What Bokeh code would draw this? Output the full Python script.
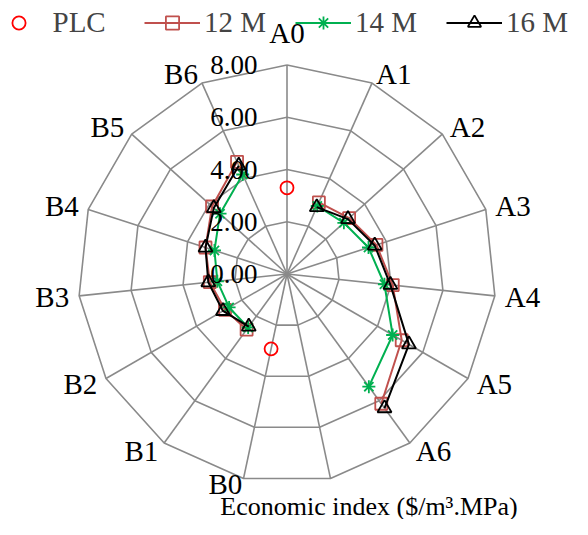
import math
import numpy as np
from bokeh.plotting import figure
from bokeh.models import Range1d, Legend, LegendItem
from bokeh.core.properties import value
from bokeh.embed import file_html
from bokeh.resources import INLINE

# ---- data ----
categories = ["A0", "A1", "A2", "A3", "A4", "A5", "A6", "",
              "B0", "B1", "B2", "B3", "B4", "B5", "B6"]
plc = [3.30, None, None, None, None, None, None, None,
       2.93, None, None, None, None, None, None]
m12 = [None, 3.00, 3.20, 3.60, 4.07, 5.07, 6.14, None,
       None, 2.63, 2.74, 2.97, 3.28, 3.86, 4.70]
m14 = [None, 2.85, 2.93, 3.28, 3.75, 4.67, 5.33, None,
       None, 2.53, 2.56, 2.68, 2.92, 3.45, 4.17]
m16 = [None, 2.80, 3.14, 3.53, 3.98, 5.39, 6.35, None,
       None, 2.49, 2.83, 3.03, 3.28, 3.77, 4.54]
ticks = [0, 2, 4, 6, 8]
tick_labels = ["0.00", "2.00", "4.00", "6.00", "8.00"]
axis_title = "Economic index ($/m\u00b3.MPa)"

# ---- layout ----
W, H = 572, 519
CX, CY = 286.5, 273.5          # centre in canvas pixels
RPX = 209.0                    # pixel radius of the outer ring
RMAX = ticks[-1]
K = RPX / RMAX                 # pixels per unit

p = figure(width=W, height=H,
           x_range=Range1d(-CX / K, (W - CX) / K),
           y_range=Range1d(-(H - CY) / K, CY / K),
           x_axis_type=None, y_axis_type=None,
           output_backend="svg", toolbar_location=None,
           min_border=0, outline_line_color=None)
p.grid.visible = False

n = len(categories)
th = np.array([2 * math.pi * i / n for i in range(n)])
sn, cs = np.sin(th), np.cos(th)

GRID = "#8a8a8a"
# rings
ring_xs, ring_ys = [], []
for t in ticks[1:]:
    ring_xs.append(list(np.append(t * sn, t * sn[0])))
    ring_ys.append(list(np.append(t * cs, t * cs[0])))
p.multi_line(ring_xs, ring_ys, line_color=GRID, line_width=1.6)
# spokes
p.segment(x0=np.zeros(n), y0=np.zeros(n), x1=RMAX * sn, y1=RMAX * cs,
          line_color=GRID, line_width=1.6)

def xy(vals):
    v = np.array([np.nan if a is None else a for a in vals], dtype=float)
    return v * sn, v * cs

FONT = value("Liberation Serif")

# series
x, y = xy(plc)
r_plc = p.scatter(x, y, marker="circle", size=13, fill_color=None,
                  line_color="#ff0000", line_width=1.8)

series = [(m12, "12 M", "#c0504d", "square", 12),
          (m14, "14 M", "#00b050", "asterisk", 13),
          (m16, "16 M", "#000000", "triangle", 14)]
items = []
for vals, name, col, mk, sz in series:
    x, y = xy(vals)
    rl = p.line(x, y, line_color=col, line_width=2)
    rs = p.scatter(x, y, marker=mk, size=sz, fill_color=None,
                   line_color=col, line_width=1.8)
    items.append(LegendItem(label=name, renderers=[rl, rs]))

# category labels
def gap(i):
    return 6 if abs(cs[i]) > 0.95 else 10

right = [i for i in range(n) if 0 < i <= 7 and categories[i]]
left = [i for i in range(n) if i >= 8 and categories[i]]
for idxs, align in ((right, "left"), (left, "right")):
    p.text(x=[RMAX * sn[i] for i in idxs], y=[RMAX * cs[i] for i in idxs],
           text=[categories[i] for i in idxs],
           x_offset=[gap(i) * sn[i] for i in idxs],
           y_offset=[-gap(i) * cs[i] for i in idxs],
           text_align=align, text_baseline="middle",
           text_font=FONT, text_font_size=value("29px"), text_color="black")
p.text(x=[0], y=[RMAX], text=[categories[0]], y_offset=[-32.5],
       text_align="center", text_baseline="middle",
       text_font=FONT, text_font_size=value("29px"), text_color="black")

# value tick labels
p.text(x=[0] * len(ticks), y=ticks, text=tick_labels, x_offset=-29.5,
       text_align="right", text_baseline="middle",
       text_font=FONT, text_font_size=value("27px"), text_color="black")

# axis title
p.text(x=[82 / K], y=[-232 / K], text=[axis_title],
       text_align="center", text_baseline="middle",
       text_font=FONT, text_font_size=value("26px"), text_color="black")

# legends
common = dict(orientation="horizontal", padding=0, margin=0,
              border_line_color=None, background_fill_alpha=0,
              label_text_font="Liberation Serif", label_text_font_size="29px",
              glyph_height=33, label_height=33)
leg1 = Legend(items=[LegendItem(label="PLC", renderers=[r_plc])],
              location=(1.5, 480), glyph_width=33, label_standoff=18, **common)
leg2 = Legend(items=items, location=(144, 480), glyph_width=56,
              label_standoff=4, spacing=29, **common)
p.add_layout(leg1)
p.add_layout(leg2)

open("out.html", "w").write(file_html(p, INLINE))
